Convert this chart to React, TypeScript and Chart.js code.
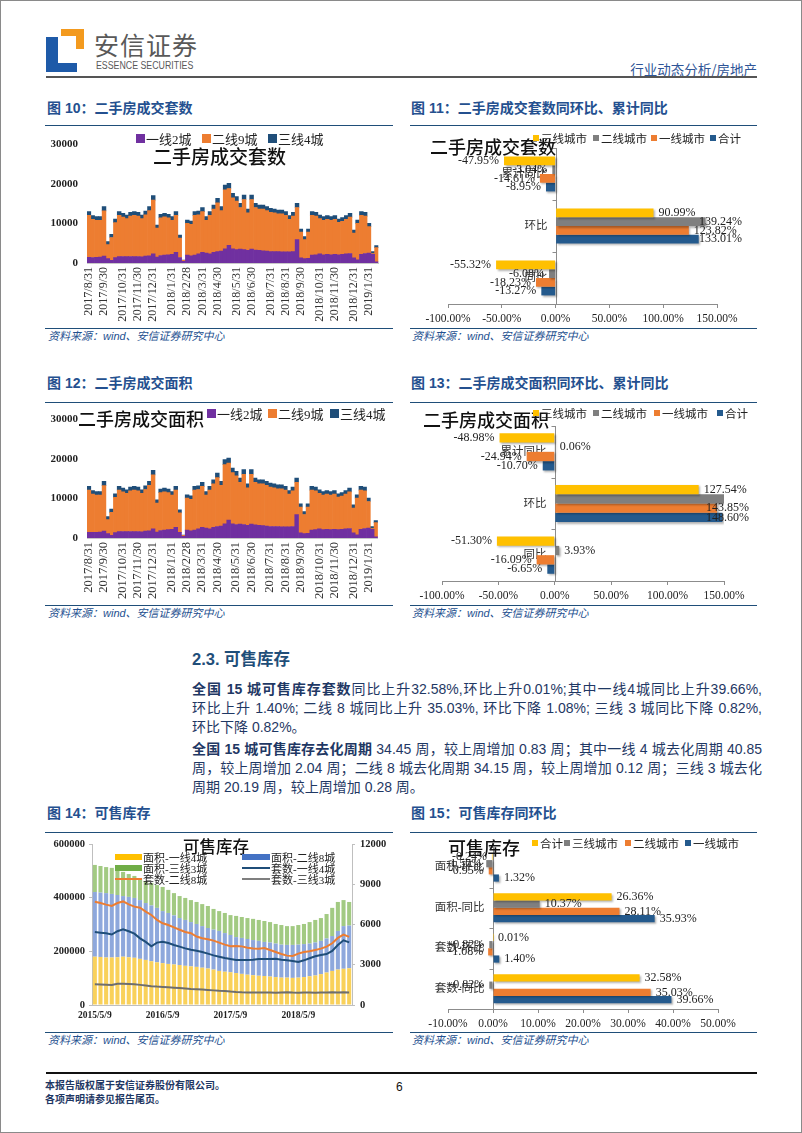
import React, { useEffect, useRef } from 'react';
import { Chart, registerables } from 'chart.js';

Chart.register(...registerables);

const SERIF = '"Liberation Serif", "Noto Sans CJK SC", serif';
const CJK = '"Noto Sans CJK SC", "Liberation Sans", sans-serif';
const BODY = '"Liberation Sans", "Noto Sans CJK SC", sans-serif';
const NAVY = '#1F4E79';
const TITLE_BLUE = '#24508F';
const TEXT_NAVY = '#1F3864';

// ---------- Figure 10 / 12 : weekly second-hand transactions ----------
const weekTickLabels = ['2017/8/31', '2017/9/30', '2017/10/31', '2017/11/30', '2017/12/31', '2018/1/31', '2018/2/28', '2018/3/31', '2018/4/30', '2018/5/31', '2018/6/30', '2018/7/31', '2018/8/31', '2018/9/30', '2018/10/31', '2018/11/30', '2018/12/31', '2019/1/31'];
const weekTickIndex = [0, 4, 9, 13, 17, 22, 26, 30, 34, 39, 43, 48, 52, 56, 61, 65, 70, 74];
const weekCount = 77;
const tierNames = ['一线2城', '二线9城', '三线4城'];
const tierColors = ['#7030A0', '#ED7D31', '#1F4E79'];

const countTier1 = [1430, 1400, 1430, 1480, 1770, 1100, 650, 1350, 1600, 1650,
  1600, 1650, 1600, 1650, 1550, 1750, 1800, 2300, 1500, 1900,
  2000, 2100, 2200, 2700, 1400, 450, 2000, 1800, 2000, 2300,
  2700, 2500, 2300, 2700, 2900, 3000, 3600, 4500, 3600, 3400,
  3500, 3400, 3200, 3500, 3300, 3200, 3100, 3000, 2900, 2900,
  2900, 2800, 2800, 2800, 2900, 5900, 1300, 1100, 1200, 2000,
  2100, 2300, 2100, 2200, 2100, 2200, 2100, 2200, 2300, 2400,
  1300, 800, 2200, 2400, 2500, 2200, 300];
const countTier2 = [10620, 9680, 9400, 9350, 11440, 3550, 5810, 8890, 10450, 9970,
  9650, 10230, 10450, 10230, 9700, 10470, 11460, 13600, 7320, 9520,
  9670, 9320, 8630, 9350, 4940, 230, 8040, 7980, 10050, 9920,
  10310, 8330, 9750, 10940, 12320, 10260, 14900, 14370, 12890, 12290,
  10560, 12670, 9470, 12570, 10760, 10440, 10540, 10260, 9940, 9770,
  9520, 9620, 9250, 8280, 8980, 8160, 6510, 4820, 6610, 10050,
  9780, 8950, 8730, 8880, 8730, 8880, 8190, 8380, 8780, 9220,
  6260, 9240, 9850, 9480, 6700, 200, 3590];
const countTier3 = [950, 900, 900, 900, 1050, 750, 800, 900, 950, 950,
  900, 950, 950, 950, 900, 950, 1000, 1150, 800, 900,
  900, 900, 900, 950, 750, 80, 850, 850, 950, 950,
  1000, 900, 950, 1050, 1150, 1000, 1250, 1300, 1150, 1100,
  1050, 1150, 1000, 1150, 1050, 1050, 1050, 1000, 1000, 1000,
  1000, 1000, 950, 900, 950, 1050, 800, 750, 800, 950,
  950, 900, 900, 900, 900, 900, 850, 900, 900, 950,
  800, 850, 950, 950, 850, 470, 500];

// the area chart reads the same on the picture
const areaTier1 = countTier1;
const areaTier2 = countTier2;
const areaTier3 = countTier3;

// ---------- Figure 11 / 13 : ratios ----------
const ratioCats = ['累计同比', '环比', '同比'];
const ratioNames = ['三线城市', '二线城市', '一线城市', '合计'];
const ratioColors = ['#FFC000', '#7F7F7F', '#ED7D31', '#245A8D'];
const countRatioTier3 = [-47.95, 90.99, -55.32];
const countRatioTier2 = [-3.04, 139.24, -6.08];
const countRatioTier1 = [-14.61, 123.82, -18.23];
const countRatioTotal = [-8.95, 133.01, -13.27];
const areaRatioTier3 = [-48.98, 127.54, -51.30];
const areaRatioTier2 = [0.06, 151.2, 3.93];
const areaRatioTier1 = [-24.94, 143.85, -16.09];
const areaRatioTotal = [-10.70, 148.60, -6.65];

// ---------- Figure 14 : inventory ----------
const invTickLabels = ['2015/5/9', '2016/5/9', '2017/5/9', '2018/5/9'];
const invTickIndex = [0, 12, 24, 36];
const invCount = 46;
const invNames = ['面积-一线4城', '面积-二线8城', '面积-三线3城', '套数-一线4城', '套数-二线8城', '套数-三线3城'];
const invAreaTier1 = [180000, 179000, 177000, 177000, 178000, 180000, 178000, 176000, 172000, 168000,
  163000, 159000, 156000, 153000, 151000, 149000, 146000, 144000, 142000, 139000,
  136000, 132000, 127000, 124000, 122000, 119000, 116000, 113000, 111000, 109000,
  108000, 106000, 104000, 102000, 102000, 101000, 102000, 104000, 107000, 110000,
  115000, 121000, 127000, 132000, 135000, 137000];
const invAreaTier2 = [241000, 240000, 240000, 237000, 232000, 226000, 225000, 223000, 219000, 212000,
  208000, 203000, 194000, 190000, 183000, 175000, 171000, 165000, 160000, 155000,
  151000, 149000, 149000, 144000, 139000, 134000, 134000, 133000, 131000, 130000,
  127000, 127000, 125000, 123000, 122000, 123000, 123000, 123000, 122000, 123000,
  124000, 127000, 130000, 144000, 159000, 159000];
const invAreaTier3 = [101000, 99000, 97000, 97000, 93000, 90000, 85000, 82000, 82000, 82000,
  84000, 85000, 90000, 86000, 83000, 82000, 82000, 82000, 82000, 82000,
  82000, 77000, 74000, 75000, 74000, 79000, 78000, 78000, 79000, 78000,
  78000, 76000, 73000, 73000, 70000, 70000, 73000, 75000, 80000, 84000,
  85000, 91000, 105000, 108000, 97000, 88000];
const invUnitTier1 = [5440, 5390, 5340, 5250, 5500, 5640, 5500, 5320, 4970, 4700,
  4380, 4650, 4720, 4620, 4470, 4350, 4220, 4120, 4050, 3950,
  3830, 3700, 3600, 3500, 3430, 3350, 3350, 3350, 3380, 3430,
  3430, 3430, 3450, 3380, 3330, 3280, 3200, 3330, 3480, 3630,
  3730, 3800, 4030, 4470, 4820, 4670];
const invUnitTier2 = [7700, 7600, 7480, 7380, 7600, 7720, 7500, 7330, 7250, 6960,
  6710, 6340, 6090, 5960, 5790, 5610, 5440, 5350, 5100, 4970,
  4900, 4800, 4650, 4500, 4380, 4400, 4370, 4270, 4220, 4200,
  4250, 4100, 3950, 3800, 3680, 3650, 3830, 3950, 4000, 4100,
  4200, 4350, 4600, 5000, 5250, 5080];
const invUnitTier3 = [1540, 1530, 1510, 1490, 1590, 1585, 1570, 1540, 1500, 1450,
  1400, 1370, 1350, 1320, 1290, 1260, 1230, 1200, 1180, 1150,
  1120, 1090, 1060, 1040, 1000, 970, 950, 940, 930, 930,
  940, 930, 920, 940, 950, 930, 920, 930, 940, 920,
  930, 940, 950, 940, 950, 940];

// ---------- Figure 15 : inventory ratios ----------
const invRatioCats = ['面积-环比', '面积-同比', '套数-环比', '套数-同比'];
const invRatioNames = ['合计', '三线城市', '二线城市', '一线城市'];
const invRatioColors = ['#FFC000', '#7F7F7F', '#ED7D31', '#245A8D'];
const invRatioTotal = [-0.24, 26.36, 0.01, 32.58];
const invRatioTier3 = [-1.50, 10.37, -0.82, -0.82];
const invRatioTier2 = [-0.95, 28.11, -1.08, 35.03];
const invRatioTier1 = [1.32, 35.93, 1.40, 39.66];

// ---------- helpers ----------
function sparseLabels(n: number, idx: number[], labels: string[]) {
  const out: string[] = new Array(n).fill('');
  idx.forEach((k, j) => { out[k] = labels[j]; });
  return out;
}

const hbarDecor = {
  id: 'hbarDecor',
  beforeDatasetsDraw(chart: any) {
    const { ctx, chartArea, scales } = chart;
    const xs = scales.x;
    const ys = scales.y;
    const x0 = Math.round(xs.getPixelForValue(0)) + 0.5;
    const labels: string[] = chart.data.labels;
    ctx.save();
    ctx.strokeStyle = '#8c8c8c';
    ctx.lineWidth = 1;
    ctx.beginPath();
    ctx.moveTo(x0, chartArea.top);
    ctx.lineTo(x0, chartArea.bottom);
    for (let i = 0; i <= labels.length; i++) {
      const y = Math.round(ys.getPixelForValue(i - 0.5)) + 0.5;
      ctx.moveTo(x0 - 4, y);
      ctx.lineTo(x0, y);
    }
    ctx.stroke();
    ctx.fillStyle = '#333';
    ctx.font = `11.5px ${SERIF}`;
    ctx.textAlign = 'right';
    ctx.textBaseline = 'middle';
    labels.forEach((l, i) => ctx.fillText(l, x0 - 9, ys.getPixelForValue(i)));
    ctx.restore();
    ctx.save();
    ctx.shadowColor = 'rgba(0,0,0,0.3)';
    ctx.shadowOffsetX = 1.5;
    ctx.shadowOffsetY = 1.5;
    ctx.shadowBlur = 2;
  },
  afterDatasetsDraw(chart: any, _args: any, opts: any) {
    const { ctx, scales } = chart;
    ctx.restore();
    const xs = scales.x;
    const right = opts && opts.labelRight ? opts.labelRight : chart.width - 4;
    ctx.save();
    ctx.fillStyle = '#222';
    ctx.font = `12px ${SERIF}`;
    ctx.textBaseline = 'middle';
    chart.data.datasets.forEach((ds: any, di: number) => {
      const meta = chart.getDatasetMeta(di);
      meta.data.forEach((el: any, j: number) => {
        const v = ds.data[j];
        if (v > xs.max || v < xs.min) return;
        const txt = v.toFixed(2) + '%';
        ctx.textAlign = 'left';
        const w = ctx.measureText(txt).width;
        if (v >= 0) {
          const x = Math.min(el.x + 5, right - w);
          ctx.fillText(txt, x, el.y);
        } else {
          ctx.fillText(txt, el.x - 5 - w, el.y);
        }
      });
    });
    ctx.restore();
  },
};

function stackedWeeklyConfig(series: number[][], labelFont: number, pad: any, xAxisH: number) {
  return {
    type: 'bar',
    data: {
      labels: sparseLabels(weekCount, weekTickIndex, weekTickLabels),
      datasets: series.map((d, i) => ({
        label: tierNames[i], data: d, backgroundColor: tierColors[i], borderWidth: 0,
        categoryPercentage: 1, barPercentage: 1,
      })),
    },
    options: {
      animation: false, responsive: false, maintainAspectRatio: false,
      layout: { padding: pad },
      plugins: { legend: { display: false }, tooltip: { enabled: false } },
      scales: {
        x: {
          stacked: true,
          grid: { display: false, drawTicks: false },
          border: { display: true, color: '#c8c8c8' },
          ticks: { autoSkip: false, minRotation: 90, maxRotation: 90, padding: 4, color: '#333', font: { family: SERIF, size: labelFont } },
          afterFit: (s: any) => { s.height = xAxisH; },
        },
        y: {
          stacked: true, min: 0, max: 30000,
          grid: { display: false, drawTicks: false },
          border: { display: false },
          ticks: { stepSize: 10000, padding: 9, color: '#222', font: { family: SERIF, size: 11, weight: 'bold' }, callback: (v: any) => String(v) },
          afterFit: (s: any) => { s.width = 42; },
        },
      },
    },
  };
}

function hbarConfig(cats: string[], series: number[][], names: string[], colors: string[], min: number, max: number, step: number, catPct: number, pad: any, xAxisH: number, labelRight: number) {
  return {
    type: 'bar',
    data: {
      labels: cats,
      datasets: series.map((d, i) => ({
        label: names[i], data: d, backgroundColor: colors[i], borderWidth: 0,
        categoryPercentage: catPct, barPercentage: 1,
      })),
    },
    options: {
      indexAxis: 'y', animation: false, responsive: false, maintainAspectRatio: false,
      layout: { padding: pad },
      plugins: { legend: { display: false }, tooltip: { enabled: false }, hbarDecor: { labelRight } },
      scales: {
        x: {
          min, max,
          grid: { drawOnChartArea: false, drawTicks: true, tickLength: 4, color: '#8c8c8c' },
          border: { color: '#8c8c8c' },
          ticks: { stepSize: step, padding: 4, minRotation: 0, maxRotation: 0, autoSkip: false, color: '#222', font: { family: SERIF, size: 11.5 }, callback: (v: any) => Number(v).toFixed(2) + '%' },
          afterFit: (s: any) => { s.height = xAxisH; },
        },
        y: { display: false },
      },
    },
    plugins: [hbarDecor],
  };
}

function inventoryConfig() {
  const barDs = (label: string, data: number[], color: string) => ({
    type: 'bar', label, data, backgroundColor: color, borderWidth: 0, yAxisID: 'y', order: 2,
    categoryPercentage: 1, barPercentage: 0.72,
  });
  const lineDs = (label: string, data: number[], color: string) => ({
    type: 'line', label, data, borderColor: color, backgroundColor: color, borderWidth: 2,
    pointRadius: 0, tension: 0, yAxisID: 'y1', order: 1,
  });
  return {
    type: 'bar',
    data: {
      labels: sparseLabels(invCount, invTickIndex, invTickLabels),
      datasets: [
        barDs(invNames[0], invAreaTier1, '#F9D15A'),
        barDs(invNames[1], invAreaTier2, '#8EA8DC'),
        barDs(invNames[2], invAreaTier3, '#A2CA82'),
        lineDs(invNames[3], invUnitTier1, '#1F4E79'),
        lineDs(invNames[4], invUnitTier2, '#ED7D31'),
        lineDs(invNames[5], invUnitTier3, '#6E6E6E'),
      ],
    },
    options: {
      animation: false, responsive: false, maintainAspectRatio: false,
      layout: { padding: { top: 12, left: 0, right: 0, bottom: 0 } },
      plugins: { legend: { display: false }, tooltip: { enabled: false } },
      scales: {
        x: {
          stacked: true,
          grid: { display: false, drawTicks: false },
          border: { display: true, color: '#bfbfbf' },
          ticks: { autoSkip: false, minRotation: 0, maxRotation: 0, padding: 5, color: '#222', font: { family: SERIF, size: 9.5, weight: 'bold' } },
          afterFit: (s: any) => { s.height = 27; },
        },
        y: {
          stacked: true, min: 0, max: 600000,
          grid: { drawOnChartArea: false, drawTicks: true, tickLength: 3, color: '#bfbfbf' },
          border: { color: '#bfbfbf' },
          ticks: { stepSize: 200000, padding: 4, color: '#222', font: { family: SERIF, size: 10.5, weight: 'bold' }, callback: (v: any) => String(v) },
          afterFit: (s: any) => { s.width = 47; },
        },
        y1: {
          position: 'right', min: 0, max: 12000,
          grid: { drawOnChartArea: false, drawTicks: true, tickLength: 3, color: '#bfbfbf' },
          border: { color: '#bfbfbf' },
          ticks: { stepSize: 3000, padding: 5, color: '#222', font: { family: SERIF, size: 10.5, weight: 'bold' }, callback: (v: any) => String(v) },
          afterFit: (s: any) => { s.width = 43; },
        },
      },
    },
  };
}

function ChartCanvas({ x, y, w, h, make }: { x: number; y: number; w: number; h: number; make: () => any }) {
  const ref = useRef<HTMLCanvasElement>(null);
  useEffect(() => {
    const chart = new Chart(ref.current as HTMLCanvasElement, make());
    return () => chart.destroy();
  }, []);
  return <canvas ref={ref} width={w} height={h} style={{ position: 'absolute', left: x, top: y, width: w, height: h }} />;
}

function Rule({ x, y, w, h = 1.5, color = NAVY }: { x: number; y: number; w: number; h?: number; color?: string }) {
  return <div style={{ position: 'absolute', left: x, top: y, width: w, height: h, background: color }} />;
}

function FigTitle({ x, y, num, text }: { x: number; y: number; num: string; text: string }) {
  return (
    <div style={{ position: 'absolute', left: x, top: y - 10, height: 20, lineHeight: '20px', fontFamily: BODY, fontWeight: 'bold', fontSize: 14, color: TITLE_BLUE, whiteSpace: 'nowrap' }}>
      图 {num}：{text}
    </div>
  );
}

function Source({ x, y }: { x: number; y: number }) {
  return (
    <div style={{ position: 'absolute', left: x, top: y - 8, height: 16, lineHeight: '16px', fontFamily: BODY, fontStyle: 'italic', fontSize: 11, color: TITLE_BLUE, whiteSpace: 'nowrap' }}>
      资料来源：wind、安信证券研究中心
    </div>
  );
}

function InnerTitle({ x, y, text, size }: { x: number; y: number; text: string; size: number }) {
  return (
    <div style={{ position: 'absolute', left: x, top: y - size / 2 - 1, height: size + 2, lineHeight: `${size + 2}px`, fontFamily: CJK, fontWeight: 500, fontSize: size, color: '#111', whiteSpace: 'nowrap' }}>
      {text}
    </div>
  );
}

function LegendItem({ x, y, color, text, sw, sh, fs, gap = 2 }: { x: number; y: number; color: string; text: string; sw: number; sh: number; fs: number; gap?: number }) {
  return (
    <div style={{ position: 'absolute', left: x, top: y - 10, height: 20, display: 'flex', alignItems: 'center', whiteSpace: 'nowrap', fontFamily: SERIF, fontSize: fs, color: '#222' }}>
      <span style={{ display: 'inline-block', width: sw, height: sh, background: color, marginRight: gap }} />
      <span>{text}</span>
    </div>
  );
}

type Seg = [string, boolean];
const bodyLines: { y: number; segs: Seg[]; justify: boolean }[] = [
  { y: 689, segs: [['全国 15 城可售库存套数', true], ['同比上升32.58%,环比上升0.01%;其中一线4城同比上升39.66%,', false]], justify: true },
  { y: 708, segs: [['环比上升 1.40%; 二线 8 城同比上升 35.03%, 环比下降 1.08%; 三线 3 城同比下降 0.82%,', false]], justify: true },
  { y: 727, segs: [['环比下降 0.82%。', false]], justify: false },
  { y: 749, segs: [['全国 15 城可售库存去化周期', true], [' 34.45 周，较上周增加 0.83 周；其中一线 4 城去化周期 40.85', false]], justify: true },
  { y: 768, segs: [['周，较上周增加 2.04 周；二线 8 城去化周期 34.15 周，较上周增加 0.12 周；三线 3 城去化', false]], justify: true },
  { y: 787, segs: [['周期 20.19 周，较上周增加 0.28 周。', false]], justify: false },
];

export default function App() {
  const ratioLegendX1 = [533, 593, 651, 710];
  const ratioLegendX2 = [533, 593, 654, 717];
  const invRatioLegendX = [532, 564, 625, 685];
  return (
    <div style={{ position: 'absolute', left: 0, top: 0, width: 802, height: 1133, background: '#fff', overflow: 'hidden' }}>
      <div style={{ position: 'absolute', left: 0, top: 0, width: 802, height: 1133, boxSizing: 'border-box', border: '1px solid #8a8a8a' }} />

      {/* header */}
      <div style={{ position: 'absolute', left: 61, top: 29, width: 23, height: 7, background: '#F39A1E' }} />
      <div style={{ position: 'absolute', left: 76, top: 29, width: 8, height: 20, background: '#F39A1E' }} />
      <div style={{ position: 'absolute', left: 46, top: 37, width: 12, height: 35, background: '#1E5AA8' }} />
      <div style={{ position: 'absolute', left: 46, top: 63, width: 31, height: 9, background: '#1E5AA8' }} />
      <div style={{ position: 'absolute', left: 94, top: 29, height: 30, lineHeight: '30px', fontFamily: CJK, fontSize: 25, letterSpacing: 1, color: '#595959', whiteSpace: 'nowrap' }}>安信证券</div>
      <div style={{ position: 'absolute', left: 96, top: 59, height: 13, lineHeight: '13px', fontFamily: BODY, fontSize: 10, color: '#595959', whiteSpace: 'nowrap', transform: 'scaleX(0.88)', transformOrigin: 'left center' }}>ESSENCE SECURITIES</div>
      <div style={{ position: 'absolute', right: 45, top: 60, height: 18, lineHeight: '18px', fontFamily: CJK, fontSize: 13.5, color: '#2F5597', whiteSpace: 'nowrap' }}>行业动态分析/房地产</div>
      <Rule x={46} y={76} w={711} h={2} color="#555" />

      {/* figure 10 */}
      <FigTitle x={47} y={108} num="10" text="二手房成交套数" />
      <Rule x={45} y={124.5} w={348} />
      <ChartCanvas x={45} y={128} w={350} h={197} make={() => stackedWeeklyConfig([countTier1, countTier2, countTier3], 12, { top: 16.5, right: 13, left: 0, bottom: 0 }, 62)} />
      <InnerTitle x={153} y={155} text="二手房成交套数" size={19} />
      {tierNames.map((n, i) => <LegendItem key={n} x={[136, 202, 268][i]} y={138} color={tierColors[i]} text={n} sw={9} sh={9} fs={13} gap={1} />)}
      <Rule x={45} y={327.5} w={348} />
      <Source x={48} y={336} />

      {/* figure 11 */}
      <FigTitle x={411} y={108} num="11" text="二手房成交套数同环比、累计同比" />
      <Rule x={410} y={124.5} w={347} />
      <ChartCanvas x={410} y={128} w={347} h={197} make={() => hbarConfig(ratioCats, [countRatioTier3, countRatioTier2, countRatioTier1, countRatioTotal], ratioNames, ratioColors, -100, 150, 50, 0.67, { left: 38, right: 40, top: 20, bottom: 0 }, 21, 332)} />
      <InnerTitle x={430} y={146} text="二手房成交套数" size={18} />
      {ratioNames.map((n, i) => <LegendItem key={n} x={ratioLegendX1[i]} y={138} color={ratioColors[i]} text={n} sw={6} sh={6} fs={11.5} gap={2} />)}
      <Rule x={410} y={327.5} w={347} />
      <Source x={412} y={336} />

      {/* figure 12 */}
      <FigTitle x={47} y={383} num="12" text="二手房成交面积" />
      <Rule x={45} y={401.5} w={348} />
      <ChartCanvas x={45} y={402} w={350} h={203} make={() => stackedWeeklyConfig([areaTier1, areaTier2, areaTier3], 12.5, { top: 17, right: 5, left: 0, bottom: 0 }, 67)} />
      <InnerTitle x={78} y={418} text="二手房成交面积" size={18} />
      {tierNames.map((n, i) => <LegendItem key={n} x={[207, 268, 330][i]} y={413} color={tierColors[i]} text={n} sw={9} sh={9} fs={13} gap={1} />)}
      <Rule x={45} y={604.5} w={348} />
      <Source x={48} y={613} />

      {/* figure 13 */}
      <FigTitle x={411} y={383} num="13" text="二手房成交面积同环比、累计同比" />
      <Rule x={410} y={401.5} w={347} />
      <ChartCanvas x={410} y={402} w={347} h={203} make={() => hbarConfig(ratioCats, [areaRatioTier3, areaRatioTier2, areaRatioTier1, areaRatioTotal], ratioNames, ratioColors, -100, 150, 50, 0.72, { left: 32, right: 33, top: 24, bottom: 0 }, 24, 339)} />
      <InnerTitle x={423} y={418.5} text="二手房成交面积" size={18} />
      {ratioNames.map((n, i) => <LegendItem key={n} x={ratioLegendX2[i]} y={413} color={ratioColors[i]} text={n} sw={6} sh={6} fs={11.5} gap={2} />)}
      <Rule x={410} y={604.5} w={347} />
      <Source x={412} y={613} />

      {/* section text */}
      <div style={{ position: 'absolute', left: 192, top: 648, height: 22, lineHeight: '22px', fontFamily: BODY, fontWeight: 'bold', fontSize: 16.5, color: NAVY, whiteSpace: 'nowrap' }}>2.3. 可售库存</div>
      {bodyLines.map((ln, i) => (
        <div key={i} style={{ position: 'absolute', left: 192, top: ln.y - 10, width: 570, height: 20, lineHeight: '20px', fontFamily: BODY, fontSize: 14, color: TEXT_NAVY, whiteSpace: 'nowrap', textAlign: ln.justify ? 'justify' : 'left', textAlignLast: ln.justify ? 'justify' : 'left' } as any}>
          {ln.segs.map(([t, b], k) => <span key={k} style={{ fontWeight: b ? 'bold' : 'normal' }}>{t}</span>)}
        </div>
      ))}

      {/* figure 14 */}
      <FigTitle x={47} y={813} num="14" text="可售库存" />
      <Rule x={45} y={831.5} w={348} />
      <ChartCanvas x={45} y={832} w={350} h={200} make={inventoryConfig} />
      <InnerTitle x={183} y={846} text="可售库存" size={16.5} />
      <LegendItem x={115} y={857} color="#FFC000" text={invNames[0]} sw={27} sh={6} fs={11} gap={1} />
      <LegendItem x={115} y={868} color="#70AD47" text={invNames[2]} sw={27} sh={6} fs={11} gap={1} />
      <LegendItem x={115} y={879} color="#ED7D31" text={invNames[4]} sw={27} sh={2} fs={11} gap={1} />
      <LegendItem x={242} y={857} color="#4472C4" text={invNames[1]} sw={28} sh={6} fs={11} gap={1} />
      <LegendItem x={242} y={868} color="#1F4E79" text={invNames[3]} sw={28} sh={2} fs={11} gap={1} />
      <LegendItem x={242} y={879} color="#7F7F7F" text={invNames[5]} sw={28} sh={2} fs={11} gap={1} />
      <Rule x={45} y={1031.5} w={348} />
      <Source x={48} y={1040} />

      {/* figure 15 */}
      <FigTitle x={411} y={813} num="15" text="可售库存同环比" />
      <Rule x={410} y={831.5} w={347} />
      <ChartCanvas x={410} y={832} w={347} h={200} make={() => hbarConfig(invRatioCats, [invRatioTotal, invRatioTier3, invRatioTier2, invRatioTier1], invRatioNames, invRatioColors, -10, 50, 10, 0.71, { left: 38, right: 39, top: 15, bottom: 0 }, 23, 340)} />
      <InnerTitle x={448} y={846.5} text="可售库存" size={18} />
      {invRatioNames.map((n, i) => <LegendItem key={n} x={invRatioLegendX[i]} y={843} color={invRatioColors[i]} text={n} sw={6} sh={6} fs={11.5} gap={2} />)}
      <Rule x={410} y={1031.5} w={347} />
      <Source x={412} y={1040} />

      {/* footer */}
      <Rule x={46} y={1072} w={711} h={1.5} color="#111" />
      <div style={{ position: 'absolute', left: 45, top: 1078, height: 14, lineHeight: '14px', fontFamily: CJK, fontWeight: 'bold', fontSize: 10, color: TEXT_NAVY, whiteSpace: 'nowrap' }}>本报告版权属于安信证券股份有限公司。</div>
      <div style={{ position: 'absolute', left: 45, top: 1092, height: 14, lineHeight: '14px', fontFamily: CJK, fontWeight: 'bold', fontSize: 10, color: TEXT_NAVY, whiteSpace: 'nowrap' }}>各项声明请参见报告尾页。</div>
      <div style={{ position: 'absolute', left: 396, top: 1080, height: 15, lineHeight: '15px', fontFamily: BODY, fontSize: 12, color: '#111' }}>6</div>
    </div>
  );
}
